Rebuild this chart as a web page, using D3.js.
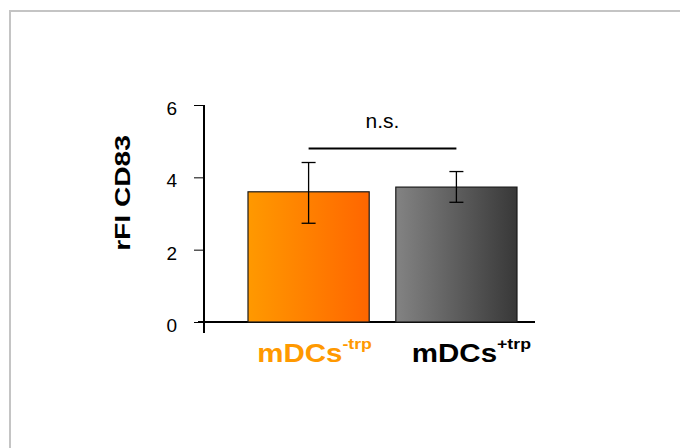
<!DOCTYPE html>
<html>
<head>
  <meta charset="utf-8">
  <title>rFI CD83</title>
  <script src="https://d3js.org/d3.v7.min.js"></script>
  <style>
    body { margin: 0; background: #fff; }
    svg { display: block; font-family: "Liberation Sans", Arial, sans-serif; }
  </style>
</head>
<body>
<div id="container"></div>
<script>
  const width = 680, height = 448;

  // data
  var groups = ["-trp", "+trp"];
  var means = [3.6, 3.73];
  var errUp = [0.81, 0.43];
  var errDown = [0.87, 0.42];
  var labelColors = ["#ff9900", "#000000"];
  var yTicks = [0, 2, 4, 6];

  var svg = d3.select("#container")
    .append("svg")
    .attr("width", width)
    .attr("height", height);

  // light grey frame (left + top only)
  svg.append("path")
    .attr("d", "M10,448 V11 H680")
    .attr("fill", "none")
    .attr("stroke", "#c4c4c4")
    .attr("stroke-width", 2);

  var defs = svg.append("defs");
  var grads = [["#ff9900", "#ff6600"], ["#838383", "#383838"]];
  grads.forEach(function(g, i) {
    var lg = defs.append("linearGradient")
      .attr("id", "grad" + i)
      .attr("x1", "0%").attr("x2", "100%")
      .attr("y1", "0%").attr("y2", "0%");
    lg.append("stop").attr("offset", "0%").attr("stop-color", g[0]);
    lg.append("stop").attr("offset", "100%").attr("stop-color", g[1]);
  });

  var x = d3.scaleBand()
    .domain(groups)
    .range([248, 517])
    .paddingInner(0.18);

  var y = d3.scaleLinear()
    .domain([0, 6])
    .range([322, 105]);

  // y axis
  var yAxis = svg.append("g")
    .attr("transform", "translate(204,0)")
    .call(d3.axisLeft(y).tickValues(yTicks).tickFormat(d3.format("d"))
      .tickSize(10).tickPadding(17).tickSizeOuter(0));
  yAxis.select(".domain").remove();
  yAxis.selectAll(".tick line").attr("stroke", "#000").attr("stroke-width", 1);
  yAxis.selectAll("text")
    .attr("font-size", 19)
    .attr("dy", "0.5em")
    .attr("fill", "#000")
    .attr("font-family", "Liberation Sans, Arial, sans-serif");

  svg.append("line")
    .attr("x1", 204).attr("x2", 204)
    .attr("y1", y(6)).attr("y2", y(0) + 11)
    .attr("stroke", "#000").attr("stroke-width", 2);

  // x baseline
  svg.append("line")
    .attr("x1", 198).attr("x2", 535)
    .attr("y1", y(0)).attr("y2", y(0))
    .attr("stroke", "#000").attr("stroke-width", 2);

  // bars
  svg.selectAll("rect.bar")
    .data(groups)
    .enter()
    .append("rect")
    .attr("class", "bar")
    .attr("x", function(d) { return x(d); })
    .attr("width", x.bandwidth())
    .attr("y", function(d, i) { return y(means[i]); })
    .attr("height", function(d, i) { return y(0) - y(means[i]); })
    .attr("fill", function(d, i) { return "url(#grad" + i + ")"; })
    .attr("stroke", "#1a1a1a")
    .attr("stroke-width", 1.2);

  // error bars
  var eb = svg.selectAll("g.err")
    .data(groups)
    .enter()
    .append("g")
    .attr("class", "err")
    .attr("stroke", "#000")
    .attr("stroke-width", 1.3);
  eb.append("line")
    .attr("x1", function(d) { return x(d) + x.bandwidth() / 2; })
    .attr("x2", function(d) { return x(d) + x.bandwidth() / 2; })
    .attr("y1", function(d, i) { return y(means[i] + errUp[i]); })
    .attr("y2", function(d, i) { return y(means[i] - errDown[i]); });
  [function(i) { return means[i] + errUp[i]; }, function(i) { return means[i] - errDown[i]; }].forEach(function(f) {
    eb.append("line")
      .attr("x1", function(d) { return x(d) + x.bandwidth() / 2 - 7; })
      .attr("x2", function(d) { return x(d) + x.bandwidth() / 2 + 7; })
      .attr("y1", function(d, i) { return y(f(i)); })
      .attr("y2", function(d, i) { return y(f(i)); });
  });

  // significance bracket
  var c0 = x(groups[0]) + x.bandwidth() / 2,
      c1 = x(groups[1]) + x.bandwidth() / 2;
  svg.append("line")
    .attr("x1", c0).attr("x2", c1)
    .attr("y1", 148.5).attr("y2", 148.5)
    .attr("stroke", "#000").attr("stroke-width", 2);
  svg.append("text")
    .attr("x", (c0 + c1) / 2)
    .attr("y", 128)
    .attr("text-anchor", "middle")
    .attr("font-size", 21)
    .text("n.s.");

  // category labels
  var lab = svg.selectAll("text.cat")
    .data(groups)
    .enter()
    .append("text")
    .attr("class", "cat")
    .attr("transform", function(d, i) {
      return "translate(" + (x(d) + x.bandwidth() / 2 + 6 + i * 9) + ",362) scale(1.18,1)";
    })
    .attr("text-anchor", "middle")
    .attr("font-weight", "bold")
    .attr("font-size", 25)
    .attr("fill", function(d, i) { return labelColors[i]; });
  lab.append("tspan").text("mDCs");
  lab.append("tspan")
    .attr("dy", -13)
    .attr("font-size", 15)
    .text(function(d) { return d; });

  // y label
  svg.append("text")
    .attr("transform", "translate(130,193) rotate(-90) scale(1.28,1)")
    .attr("text-anchor", "middle")
    .attr("font-weight", "bold")
    .attr("font-size", 22)
    .text("rFI CD83");
</script>
</body>
</html>
